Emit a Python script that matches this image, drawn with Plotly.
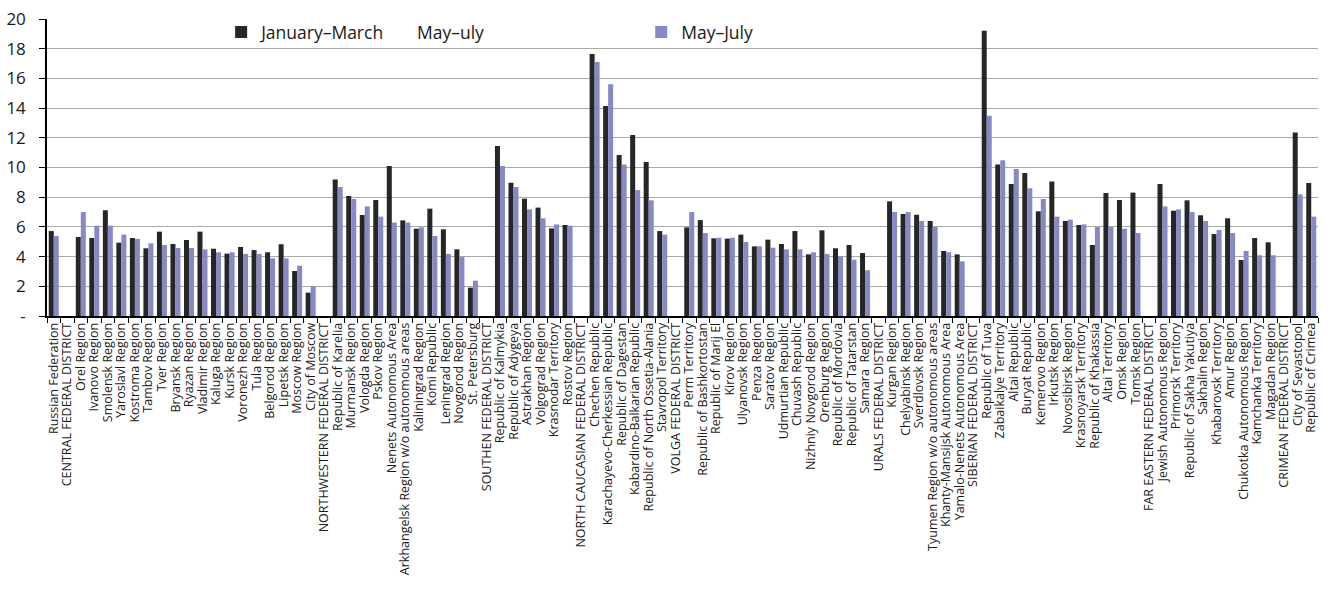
import plotly.graph_objects as go

# Regions of Russia, grouped by federal district (district rows carry no values)
regions = [
    "Russian Federation", "CENTRAL FEDERAL DISTRICT", "Orel Region", "Ivanovo Region",
    "Smolensk Region", "Yaroslavl Region", "Kostroma Region", "Tambov Region", "Tver Region",
    "Bryansk Region", "Ryazan Region", "Vladimir Region", "Kaluga Region", "Kursk Region",
    "Voronezh Region", "Tula Region", "Belgorod Region", "Lipetsk Region", "Moscow Region",
    "City of Moscow", "NORTHWESTERN FEDERAL DISTRICT", "Republic of Karelia", "Murmansk Region",
    "Vologda Region", "Pskov Region", "Nenets Autonomous Area",
    "Arkhangelsk Region w/o autonomous areas", "Kaliningrad Region", "Komi Republic",
    "Leningrad Region", "Novgorod Region", "St. Petersburg", "SOUTHEN FEDERAL DISTRICT",
    "Republic of Kalmykia", "Republic of Adygeya", "Astrakhan Region", "Volgograd Region",
    "Krasnodar Territory", "Rostov Region", "NORTH CAUCASIAN FEDERAL DISTRICT",
    "Chechen Republic", "Karachayevo-Cherkessian Republic", "Republic of Dagestan",
    "Kabardino-Balkarian Republic", "Republic of North Ossetia-Alania", "Stavropol Territory",
    "VOLGA FEDERAL DISTRICT", "Perm Territory", "Republic of Bashkortostan",
    "Republic of Marij El", "Kirov Region", "Ulyanovsk Region", "Penza Region",
    "Saratov Region", "Udmurtian Republic", "Chuvash Republic", "Nizhniy Novgorod Region",
    "Orenburg Region", "Republic of Mordovia", "Republic of Tatarstan", "Samara  Region",
    "URALS FEDERAL DISTRICT", "Kurgan Region", "Chelyabinsk Region", "Sverdlovsk Region",
    "Tyumen Region w/o autonomous areas", "Khanty-Mansijsk Autonomous Area",
    "Yamalo-Nenets Autonomous Area", "SIBERIAN FEDERAL DISTRICT", "Republic of Tuva",
    "Zabaikalye Territory", "Altai Republic", "Buryat Republic", "Kemerovo Region",
    "Irkutsk Region", "Novosibirsk Region", "Krasnoyarsk Territory", "Republic of Khakassia",
    "Altai Territory", "Omsk Region", "Tomsk Region", "FAR EASTERN FEDERAL DISTRICT",
    "Jewish Autonomous Region", "Primorsk Territory", "Republic of Sakha Yakutiya",
    "Sakhalin Region", "Khabarovsk Territory", "Amur Region", "Chukotka Autonomous Region",
    "Kamchanka Territory", "Magadan Region", "CRIMEAN FEDERAL DISTRICT", "City of Sevastopol",
    "Republic of Crimea",
]

jan_mar = [
    5.72, None, 5.32, 5.25, 7.12, 4.94, 5.25, 4.56, 5.68, 4.85, 5.12, 5.68, 4.53, 4.20,
    4.65, 4.44, 4.29, 4.83, 3.03, 1.57, None, 9.20, 8.08, 6.80, 7.81, 10.10, 6.44, 5.88,
    7.23, 5.84, 4.49, 1.91, None, 11.45, 8.98, 7.90, 7.30, 5.90, 6.13, None, 17.64, 14.14,
    10.84, 12.19, 10.37, 5.72, None, 5.97, 6.46, 5.23, 5.21, 5.48, 4.69, 5.14, 4.85, 5.72,
    4.15, 5.77, 4.56, 4.78, 4.24, None, 7.72, 6.87, 6.82, 6.40, 4.38, 4.15, None, 19.21,
    10.21, 8.89, 9.63, 7.05, 9.05, 6.40, 6.13, 4.78, 8.28, 7.81, 8.31, None, 8.89, 7.09,
    7.79, 6.78, 5.52, 6.58, 3.77, 5.25, 4.96, None, 12.35, 8.96,
]

may_jul = [
    5.39, None, 7.00, 6.08, 6.08, 5.48, 5.19, 4.89, 4.78, 4.58, 4.58, 4.49, 4.29, 4.29,
    4.18, 4.18, 3.88, 3.88, 3.39, 2.00, None, 8.69, 7.88, 7.38, 6.69, 6.29, 6.29, 5.97,
    5.39, 4.18, 3.97, 2.38, None, 10.10, 8.69, 7.18, 6.58, 6.17, 6.08, None, 17.10, 15.60,
    10.21, 8.48, 7.79, 5.48, None, 7.00, 5.59, 5.27, 5.27, 4.98, 4.69, 4.60, 4.49, 4.49,
    4.29, 4.18, 4.00, 3.79, 3.08, None, 7.00, 7.00, 6.40, 5.99, 4.29, 3.68, None, 13.49,
    10.48, 9.90, 8.60, 7.88, 6.69, 6.49, 6.17, 5.99, 5.99, 5.88, 5.59, None, 7.38, 7.18,
    7.00, 6.40, 5.79, 5.59, 4.38, 4.09, 4.09, None, 8.19, 6.69,
]

y_ticks = list(range(0, 21, 2))
y_tick_text = ["-"] + [str(v) for v in y_ticks[1:]]

FONT = "Open Sans, Liberation Sans, sans-serif"
DARK = "#262626"
BLUE = "#8689C4"

fig = go.Figure()
fig.add_trace(go.Bar(
    x=regions, y=jan_mar, name="January–March", marker_color=DARK,
    marker_line_width=0, legend="legend",
))
# placeholder series: appears in the legend only, with no symbol
fig.add_trace(go.Scatter(
    x=[regions[0]], y=[0], name="May–uly", mode="markers",
    marker=dict(color="rgba(0,0,0,0)", size=1), hoverinfo="skip", legend="legend2",
))
fig.add_trace(go.Bar(
    x=regions, y=may_jul, name="May–July", marker_color=BLUE,
    marker_line_width=0, legend="legend3",
))

legend_common = dict(
    orientation="h", yanchor="middle", y=0.956, xanchor="left",
    bgcolor="rgba(0,0,0,0)", borderwidth=0,
    font=dict(family=FONT, size=17.5, color="#1a1a1a"),
)

fig.update_layout(
    width=1330, height=607,
    margin=dict(l=47, r=12, t=19, b=291),
    paper_bgcolor="white", plot_bgcolor="white",
    barmode="group", bargap=0.26, bargroupgap=0,
    font=dict(family=FONT, color="#1a1a1a"),
    showlegend=True,
    legend=dict(x=0.1370, **legend_common),
    legend2=dict(x=0.2596, **legend_common),
    legend3=dict(x=0.4675, **legend_common),
    xaxis=dict(
        type="category", range=[-0.5, len(regions) - 0.5],
        tickmode="array", tickvals=regions, ticktext=regions,
        tickangle=-90, tickson="boundaries",
        ticks="outside", ticklen=5, tickcolor="black", tickwidth=1,
        showline=True, linecolor="black", linewidth=1.5,
        showgrid=False, tickfont=dict(family=FONT, size=12.5, color="#1a1a1a"),
        automargin=False,
    ),
    yaxis=dict(
        range=[0, 20], tickvals=y_ticks, ticktext=y_tick_text,
        ticks="outside", ticklen=6, tickcolor="black", tickwidth=1,
        showline=True, linecolor="black", linewidth=1.5,
        showgrid=True, gridcolor="#a9a9a9", gridwidth=1.2, zeroline=False,
        tickfont=dict(family=FONT, size=17, color="#1a1a1a"),
        ticklabelstandoff=10, automargin=False,
    ),
)

fig.write_html("out.html")
